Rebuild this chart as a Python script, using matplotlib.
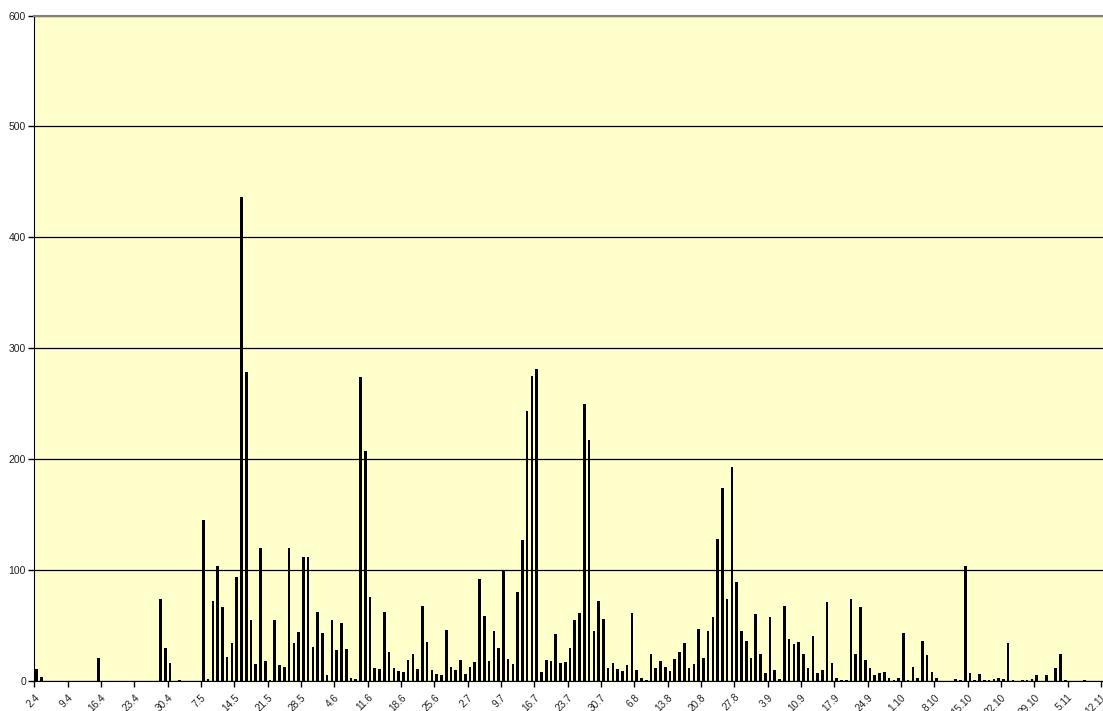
import matplotlib
matplotlib.use("Agg")
import matplotlib.pyplot as plt
import numpy as np
import pandas as pd

# daily counts from 2.4 to 12.11, one row per week
counts = [
    11, 4, 0, 0, 0, 0, 0,
    0, 0, 0, 0, 0, 0, 21,
    0, 0, 0, 0, 0, 0, 0,
    0, 0, 0, 0, 0, 74, 30,
    16, 0, 1, 0, 0, 0, 0,
    145, 2, 72, 104, 67, 22, 34,
    94, 436, 279, 55, 15, 120, 18,
    1, 55, 14, 13, 120, 34, 44,
    112, 112, 31, 62, 43, 5, 55,
    28, 52, 29, 3, 2, 274, 207,
    76, 12, 11, 62, 26, 12, 9,
    8, 19, 24, 11, 68, 35, 10,
    6, 5, 46, 13, 10, 19, 6,
    13, 17, 92, 59, 18, 45, 30,
    99, 20, 15, 80, 127, 243, 275,
    281, 8, 19, 18, 42, 16, 17,
    30, 55, 61, 250, 217, 45, 72,
    56, 12, 16, 11, 9, 14, 61,
    10, 3, 1, 24, 12, 18, 13,
    9, 20, 26, 34, 12, 15, 47,
    21, 45, 58, 128, 174, 74, 193,
    89, 45, 36, 21, 60, 24, 7,
    58, 10, 2, 68, 38, 33, 35,
    24, 12, 41, 7, 10, 71, 16,
    3, 1, 1, 74, 24, 67, 19,
    12, 5, 7, 8, 3, 1, 3,
    43, 1, 13, 3, 36, 23, 8,
    3, 0, 0, 0, 2, 1, 104,
    7, 1, 6, 1, 1, 2, 3,
    2, 34, 1, 0, 1, 1, 2,
    5, 0, 5, 0, 12, 24, 1,
    0, 0, 0, 1, 0, 0, 0,
    0,
]

days = pd.date_range("2007-04-02", periods=len(counts), freq="D")
week_labels = [f"{d.day}.{d.month}" for d in days[::7]]
y_ticks = [0, 100, 200, 300, 400, 500, 600]

plt.rcParams["font.family"] = ["Liberation Sans", "DejaVu Sans"]

fig = plt.figure(figsize=(11.03, 7.11), dpi=100)
day_w = 4.762 / 1103
ax = fig.add_axes([34.3 / 1103, 30 / 711, day_w * len(counts), 665.5 / 711])
ax.set_facecolor("#ffffcc")

x = np.arange(len(counts))
ax.bar(x, counts, width=0.55, color="black", zorder=3)

ax.set_xlim(-0.5, len(counts) - 0.5)
ax.set_ylim(0, 600)
ax.set_yticks(y_ticks)
ax.yaxis.grid(True, color="black", linewidth=0.9, zorder=1)

# tick marks sit between categories, one per week
tick_pos = np.arange(0, len(counts), 7) - 0.5
ax.set_xticks(tick_pos)
ax.set_xticklabels(week_labels, rotation=45, ha="right", va="top",
                   rotation_mode="anchor", fontsize=7.2, color="#222222")
ax.tick_params(axis="x", length=4, width=1, pad=4)
ax.tick_params(axis="y", length=4, width=1, labelsize=7.5, labelcolor="#222222", pad=2)

for s in ["left", "bottom"]:
    ax.spines[s].set_color("black")
ax.spines["top"].set_color("#808080")
ax.spines["top"].set_linewidth(1.5)
ax.spines["right"].set_visible(False)

plt.savefig("out.png", dpi=100)
